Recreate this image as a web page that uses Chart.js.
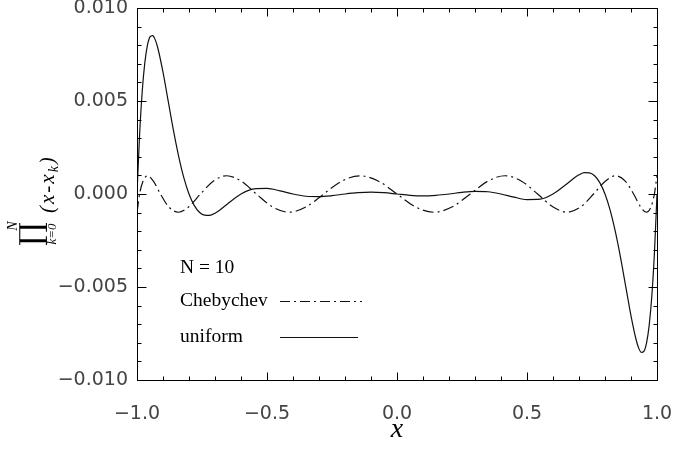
<!DOCTYPE html>
<html>
<head>
<meta charset="utf-8">
<script src="https://cdn.jsdelivr.net/npm/chart.js@4.4.1/dist/chart.umd.min.js"></script>
<style>
  html, body { margin: 0; padding: 0; background: #fff; }
  #wrap { width: 677px; height: 450px; }
</style>
</head>
<body>
<div id="wrap"><canvas id="prodChart" width="677" height="450"></canvas></div>
<script>
// -------------------------------
// DONNEES
// -------------------------------
const uniformX = [-1, -0.99, -0.98, -0.97, -0.96, -0.95, -0.94, -0.93, -0.92, -0.90, -0.88, -0.86, -0.84, -0.82,
  -0.80, -0.78, -0.76, -0.74, -0.72, -0.70, -0.68, -0.65, -0.60, -0.55, -0.50, -0.45, -0.40, -0.35, -0.30,
  -0.25, -0.20, -0.15, -0.10, -0.05, 0, 0.05, 0.10, 0.15, 0.20, 0.25, 0.30, 0.35, 0.40, 0.45, 0.50, 0.55,
  0.60, 0.65, 0.68, 0.70, 0.72, 0.74, 0.76, 0.78, 0.80, 0.82, 0.84, 0.86, 0.88, 0.90, 0.92, 0.93, 0.94,
  0.95, 0.96, 0.97, 0.98, 0.99, 1];
const uniformY = [0, 0.00320, 0.00550, 0.00705, 0.00799, 0.00845, 0.00852, 0.00830, 0.00785, 0.00655, 0.00499,
  0.00343, 0.00204, 0.00088, 0, -0.00061, -0.00098, -0.00114, -0.00115, -0.00103, -0.00085, -0.00051, 0,
  0.00028, 0.00030, 0.00017, 0, -0.00012, -0.00014, -0.00009, 0, 0.00007, 0.00010, 0.00007, 0,
  -0.00007, -0.00010, -0.00007, 0, 0.00009, 0.00014, 0.00012, 0, -0.00017, -0.00030, -0.00028, 0,
  0.00051, 0.00085, 0.00103, 0.00115, 0.00114, 0.00098, 0.00061, 0, -0.00088, -0.00204, -0.00343,
  -0.00499, -0.00655, -0.00785, -0.00830, -0.00852, -0.00845, -0.00799, -0.00705, -0.00550, -0.00320, 0];

const chebX = [-1, -0.997, -0.990, -0.977, -0.959, -0.937, -0.910, -0.878, -0.841, -0.801, -0.756, -0.707,
  -0.655, -0.599, -0.541, -0.479, -0.415, -0.349, -0.282, -0.213, -0.142, -0.071, 0, 0.071, 0.142, 0.213,
  0.282, 0.349, 0.415, 0.479, 0.541, 0.599, 0.655, 0.707, 0.756, 0.801, 0.841, 0.878, 0.910, 0.937, 0.959,
  0.977, 0.990, 0.997, 1];
const chebY = [-0.00098, -0.00069, 0, 0.00069, 0.00098, 0.00069, 0, -0.00069, -0.00098, -0.00069, 0, 0.00069,
  0.00098, 0.00069, 0, -0.00069, -0.00098, -0.00069, 0, 0.00069, 0.00098, 0.00069, 0, -0.00069, -0.00098,
  -0.00069, 0, 0.00069, 0.00098, 0.00069, 0, -0.00069, -0.00098, -0.00069, 0, 0.00069, 0.00098, 0.00069, 0,
  -0.00069, -0.00098, -0.00069, 0, 0.00069, 0.00098];

const xTickLabels = ["\u22121.0", "\u22120.5", "0.0", "0.5", "1.0"];
const yTickLabels = ["\u22120.010", "\u22120.005", "0.000", "0.005", "0.010"];
const seriesLabels = ["Chebychev", "uniform"];
const legendTitle = "N = 10";

const X_MIN = -1, X_MAX = 1, X_MAJOR = 0.5, X_MINOR = 0.1;
const Y_MIN = -0.010, Y_MAX = 0.010, Y_MAJOR = 0.005, Y_MINOR = 0.001;

function isMajor(v, step) {
  const r = v / step;
  return Math.abs(r - Math.round(r)) < 1e-6;
}

function toPoints(xs, ys) {
  return xs.map((x, i) => ({ x: x, y: ys[i] }));
}

// -------------------------------
// CADRE, GRADUATIONS, LEGENDE, TITRE Y
// -------------------------------
const frameAndTicks = {
  id: 'frameAndTicks',
  afterDraw(chart) {
    const { ctx, chartArea: a, scales } = chart;
    const L = Math.round(a.left) + 0.5, R = Math.round(a.right) + 0.5;
    const T = Math.round(a.top) + 0.5, B = Math.round(a.bottom) + 0.5;
    ctx.save();
    ctx.strokeStyle = '#000';
    ctx.lineWidth = 1;
    ctx.strokeRect(L, T, R - L, B - T);

    // graduations vers l'intérieur
    ctx.beginPath();
    scales.x.ticks.forEach(t => {
      const px = Math.round(scales.x.getPixelForValue(t.value)) + 0.5;
      const len = isMajor(t.value, X_MAJOR) ? 8 : 4;
      ctx.moveTo(px, B); ctx.lineTo(px, B - len);
      ctx.moveTo(px, T); ctx.lineTo(px, T + len);
    });
    scales.y.ticks.forEach(t => {
      const py = Math.round(scales.y.getPixelForValue(t.value)) + 0.5;
      const len = isMajor(t.value, Y_MAJOR) ? 9 : 4;
      ctx.moveTo(L, py); ctx.lineTo(L + len, py);
      ctx.moveTo(R, py); ctx.lineTo(R - len, py);
    });
    ctx.stroke();

    // légende
    ctx.fillStyle = '#000';
    ctx.font = '19.5px "Liberation Serif"';
    ctx.textAlign = 'left';
    ctx.textBaseline = 'middle';
    ctx.fillText(legendTitle, 180, 268);
    ctx.fillText(seriesLabels[0], 180, 301);
    ctx.fillText(seriesLabels[1], 180, 337);
    ctx.lineWidth = 1.2;
    ctx.strokeStyle = '#111';
    ctx.beginPath();
    ctx.setLineDash([10, 4, 2, 4]);
    ctx.moveTo(280, 301.5); ctx.lineTo(362, 301.5);
    ctx.stroke();
    ctx.beginPath();
    ctx.setLineDash([]);
    ctx.moveTo(280, 337.5); ctx.lineTo(358, 337.5);
    ctx.stroke();

    // titre de l'axe y : produit
    ctx.rotate(-Math.PI / 2);
    ctx.textAlign = 'center';
    ctx.textBaseline = 'middle';
    ctx.font = '30px "DejaVu Serif"';
    ctx.fillText('\u220F', -234, 33);
    ctx.font = 'italic 14px "Liberation Serif"';
    ctx.fillText('N', -226, 13);
    ctx.font = 'italic 13px "Liberation Serif"';
    ctx.fillText('k=0', -234, 53);
    ctx.textAlign = 'left';
    ctx.textBaseline = 'alphabetic';
    ctx.letterSpacing = '2px';
    ctx.font = 'italic 21px "Liberation Serif"';
    let px0 = -213;
    ctx.fillText('(x-x', px0, 54);
    px0 += ctx.measureText('(x-x').width;
    ctx.font = 'italic 14px "Liberation Serif"';
    ctx.fillText('k', px0, 58);
    px0 += ctx.measureText('k').width;
    ctx.font = 'italic 21px "Liberation Serif"';
    ctx.fillText(')', px0, 54);
    ctx.restore();
  }
};

// -------------------------------
// GRAPHIQUE
// -------------------------------
const ctx = document.getElementById('prodChart').getContext('2d');

const prodChart = new Chart(ctx, {
  type: 'line',
  data: {
    datasets: [{
      label: seriesLabels[0],
      data: toPoints(chebX, chebY),
      borderColor: '#111',
      borderWidth: 1.2,
      borderDash: [11, 4, 2, 4],
      pointRadius: 0,
      cubicInterpolationMode: 'monotone',
      fill: false
    }, {
      label: seriesLabels[1],
      data: toPoints(uniformX, uniformY),
      borderColor: '#111',
      borderWidth: 1.2,
      pointRadius: 0,
      cubicInterpolationMode: 'monotone',
      fill: false
    }]
  },
  options: {
    responsive: false,
    animation: false,
    devicePixelRatio: 1,
    layout: { padding: { left: 0, right: 20, top: 8, bottom: 0 } },
    plugins: {
      legend: { display: false },
      tooltip: { enabled: false }
    },
    scales: {
      x: {
        type: 'linear',
        min: X_MIN,
        max: X_MAX,
        grid: { display: false, drawTicks: false },
        border: { display: false },
        ticks: {
          stepSize: X_MINOR,
          autoSkip: false,
          maxRotation: 0,
          padding: 23,
          color: '#444',
          font: { family: 'DejaVu Sans', size: 19 },
          callback: v => isMajor(v, X_MAJOR) ? xTickLabels[Math.round((v - X_MIN) / X_MAJOR)] : ''
        },
        title: {
          display: true,
          text: 'x',
          color: '#000',
          font: { family: 'Liberation Serif', style: 'italic', size: 28 },
          padding: { top: 0, bottom: 4 }
        },
        afterFit: s => { s.height = 70; s.paddingLeft = 0; s.paddingRight = 0; }
      },
      y: {
        type: 'linear',
        min: Y_MIN,
        max: Y_MAX,
        grid: { display: false, drawTicks: false },
        border: { display: false },
        ticks: {
          stepSize: Y_MINOR,
          autoSkip: false,
          padding: 9,
          color: '#444',
          font: { family: 'DejaVu Sans', size: 19 },
          callback: v => isMajor(v, Y_MAJOR) ? yTickLabels[Math.round((v - Y_MIN) / Y_MAJOR)] : ''
        },
        afterFit: s => { s.width = 137; s.paddingTop = 0; s.paddingBottom = 0; }
      }
    }
  },
  plugins: [frameAndTicks]
});
</script>
</body>
</html>
